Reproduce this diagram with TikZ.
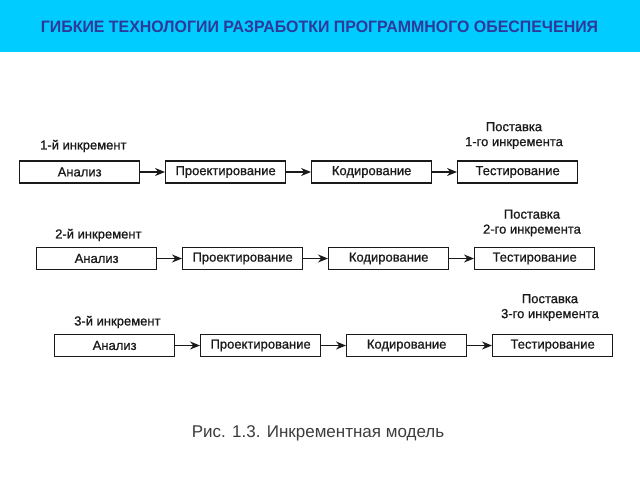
\documentclass[tikz,border=0pt]{standalone}
\usepackage{fontspec}
\setmainfont{Liberation Sans}
\newfontfamily\scanfont[FakeBold=0.9]{Liberation Sans}
\usetikzlibrary{arrows.meta}
\definecolor{bandcol}{HTML}{00CCFF}
\definecolor{titlecol}{HTML}{2E3A9A}
\definecolor{inkcol}{HTML}{1A1A1A}
\begin{document}
\begin{tikzpicture}[x=1pt,y=-1pt,
  stagebox/.style={draw=inkcol, line width=1.3pt, minimum width=120pt, minimum height=22pt, inner sep=0pt, text=inkcol, font=\scanfont\fontsize{13}{14}\selectfont},
  incrlbl/.style={anchor=west, inner sep=0pt, text=inkcol, font=\scanfont\fontsize{13}{14}\selectfont},
  dlvlbl/.style={align=center, inner sep=0pt, text=inkcol, font=\scanfont\fontsize{13}{15}\selectfont},
  flow/.style={draw=inkcol, line width=1.3pt, -{Stealth[length=10pt,width=8pt]}}]
\useasboundingbox (0,0) rectangle (640,480);
\fill[bandcol] (0,0) rectangle (640,52);
\node[text=titlecol, font=\bfseries\fontsize{16.5}{18}\selectfont] (title) at (319.5,27) {\scalebox{0.965}[1]{ГИБКИЕ ТЕХНОЛОГИИ РАЗРАБОТКИ ПРОГРАММНОГО ОБЕСПЕЧЕНИЯ}};
% row 1
\node[stagebox, anchor=west] (a1) at (19,172) {Анализ};
\node[stagebox, anchor=west] (b1) at (165,172) {Проектирование};
\node[stagebox, anchor=west] (c1) at (311,172) {Кодирование};
\node[stagebox, anchor=west] (d1) at (457,172) {Тестирование};
\node[incrlbl] (l1) at (40,146) {1-й инкремент};
\node[dlvlbl] (p1) at (514,135.5) {Поставка\\1-го инкремента};
% row 2
\node[stagebox, anchor=west] (a2) at (36,258.5) {Анализ};
\node[stagebox, anchor=west] (b2) at (182,258.5) {Проектирование};
\node[stagebox, anchor=west] (c2) at (328,258.5) {Кодирование};
\node[stagebox, anchor=west] (d2) at (474,258.5) {Тестирование};
\node[incrlbl] (l2) at (55,235) {2-й инкремент};
\node[dlvlbl] (p2) at (532,223) {Поставка\\2-го инкремента};
% row 3
\node[stagebox, anchor=west] (a3) at (54,345.5) {Анализ};
\node[stagebox, anchor=west] (b3) at (200,345.5) {Проектирование};
\node[stagebox, anchor=west] (c3) at (346,345.5) {Кодирование};
\node[stagebox, anchor=west] (d3) at (492,345.5) {Тестирование};
\node[incrlbl] (l3) at (74,322) {3-й инкремент};
\node[dlvlbl] (p3) at (550,307.5) {Поставка\\3-го инкремента};
\foreach \r in {1,2,3}{
  \draw[flow] (a\r) -- (b\r);
  \draw[flow] (b\r) -- (c\r);
  \draw[flow] (c\r) -- (d\r);
}
\node[text=inkcol!85, font=\fontsize{17}{20}\selectfont] (cap) at (318,433) {Рис. 1.3. Инкрементная модель};
\end{tikzpicture}
\end{document}
